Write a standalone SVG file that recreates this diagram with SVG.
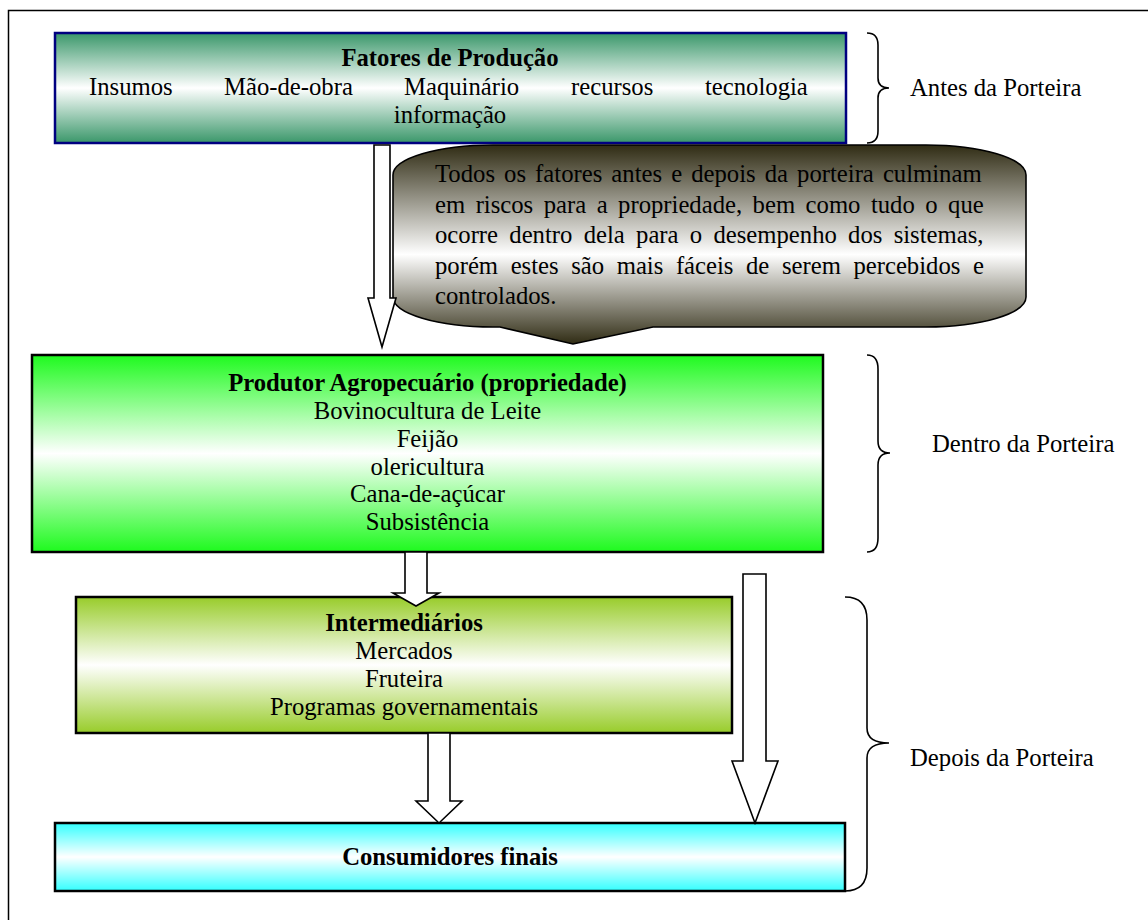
<svg xmlns="http://www.w3.org/2000/svg" width="1148" height="920" viewBox="0 0 1148 920">
  <defs>
    <linearGradient id="gFat" x1="0" y1="0" x2="0" y2="1">
      <stop offset="0" stop-color="#3a976a"/>
      <stop offset="0.5" stop-color="#ffffff"/>
      <stop offset="1" stop-color="#3a976a"/>
    </linearGradient>
    <linearGradient id="gProd" x1="0" y1="0" x2="0" y2="1">
      <stop offset="0" stop-color="#1efa1e"/>
      <stop offset="0.5" stop-color="#ffffff"/>
      <stop offset="1" stop-color="#1efa1e"/>
    </linearGradient>
    <linearGradient id="gInt" x1="0" y1="0" x2="0" y2="1">
      <stop offset="0" stop-color="#98cc2a"/>
      <stop offset="0.5" stop-color="#ffffff"/>
      <stop offset="1" stop-color="#98cc2a"/>
    </linearGradient>
    <linearGradient id="gCons" x1="0" y1="0" x2="0" y2="1">
      <stop offset="0" stop-color="#33ffff"/>
      <stop offset="0.5" stop-color="#ffffff"/>
      <stop offset="1" stop-color="#33ffff"/>
    </linearGradient>
    <linearGradient id="gCall" x1="0" y1="0" x2="0" y2="1">
      <stop offset="0" stop-color="#302c14"/>
      <stop offset="0.55" stop-color="#ffffff"/>
      <stop offset="1" stop-color="#302c14"/>
    </linearGradient>
  </defs>
  <style>
    text { font-family: "Liberation Serif", "Times New Roman", serif; font-size: 24.7px; fill: #000; }
    .b { font-weight: bold; }
    .c { text-anchor: middle; }
    .box { stroke: #000; stroke-width: 2.5; }
    .arr { fill: #fff; stroke: #000; stroke-width: 1.6; stroke-linejoin: miter; }
    .brace { fill: none; stroke: #000; stroke-width: 1.6; }
  </style>

  <rect id="frame" x="8.5" y="10.5" width="1160" height="930" fill="#fff" stroke="#000" stroke-width="1.5"/>

  <g id="fatores">
    <rect x="55" y="33" width="791" height="110" fill="url(#gFat)" stroke="#000080" stroke-width="2.5"/>
    <text class="b c" x="450" y="66">Fatores de Produção</text>
    <text x="89" y="95">Insumos</text>
    <text x="224" y="95">Mão-de-obra</text>
    <text x="404" y="95">Maquinário</text>
    <text x="571" y="95">recursos</text>
    <text x="705" y="95">tecnologia</text>
    <text class="c" x="450" y="123">informação</text>
  </g>

  <g id="callout">
    <path d="M 493,145 L 926,145 A 100,30 0 0 1 1026,175 L 1026,297 A 100,30 0 0 1 926,327 L 653,327 L 573,344 L 500,327 L 493,327 A 100,30 0 0 1 393,297 L 393,175 A 100,30 0 0 1 493,145 Z" fill="url(#gCall)" stroke="#000" stroke-width="1.6"/>
    <text x="435" y="182" word-spacing="2.9">Todos os fatores antes e depois da porteira culminam</text>
    <text x="435" y="212.5" word-spacing="4.3">em riscos para a propriedade, bem como tudo o que</text>
    <text x="435" y="243" word-spacing="5.1">ocorre dentro dela para o desempenho dos sistemas,</text>
    <text x="435" y="273.5" word-spacing="6.4">porém estes são mais fáceis de serem percebidos e</text>
    <text x="435" y="304">controlados.</text>
  </g>

  <g id="produtor">
    <rect class="box" x="32" y="355" width="791" height="197" fill="url(#gProd)"/>
    <text class="b c" x="427.5" y="391">Produtor Agropecuário (propriedade)</text>
    <text class="c" x="427.5" y="419">Bovinocultura de Leite</text>
    <text class="c" x="427.5" y="447">Feijão</text>
    <text class="c" x="427.5" y="475">olericultura</text>
    <text class="c" x="427.5" y="502">Cana-de-açúcar</text>
    <text class="c" x="427.5" y="530">Subsistência</text>
  </g>

  <g id="intermediarios">
    <rect class="box" x="76" y="597" width="656" height="136" fill="url(#gInt)"/>
    <text class="b c" x="404" y="631">Intermediários</text>
    <text class="c" x="404" y="659">Mercados</text>
    <text class="c" x="404" y="687">Fruteira</text>
    <text class="c" x="404" y="715">Programas governamentais</text>
  </g>

  <g id="consumidores">
    <rect class="box" x="55" y="823" width="790" height="68" fill="url(#gCons)"/>
    <text class="b c" x="450" y="865">Consumidores finais</text>
  </g>

  <g id="connectors">
    <path class="arr" d="M 374,145 L 390,145 L 390,298 L 396,298 L 382,347 L 368,298 L 374,298 Z"/>
    <path class="arr" d="M 405,552 L 427,552 L 427,593 L 439,593 L 416,606 L 393,593 L 405,593 Z"/>
    <path class="arr" d="M 428,733 L 450,733 L 450,801 L 462,801 L 439,823 L 416,801 L 428,801 Z"/>
    <path class="arr" d="M 743,574 L 766,574 L 766,761 L 778,761 L 755,823 L 732,761 L 743,761 Z"/>
  </g>

  <g id="antes">
    <path class="brace" d="M 867,33 Q 878,33 878,45 L 878,78 Q 878,88 889,88 Q 878,88 878,98 L 878,131 Q 878,143 867,143"/>
    <text x="910" y="96">Antes da Porteira</text>
  </g>

  <g id="dentro">
    <path class="brace" d="M 867,355 Q 878,355 878,369 L 878,441 Q 878,453 890,453 Q 878,453 878,465 L 878,538 Q 878,552 867,552"/>
    <text x="932" y="452">Dentro da Porteira</text>
  </g>

  <g id="depois">
    <path class="brace" d="M 845,597 Q 867,597 867,620 L 867,728 Q 867,743 889,743 Q 867,743 867,758 L 867,868 Q 867,891 845,891"/>
    <text x="910" y="766">Depois da Porteira</text>
  </g>
</svg>
